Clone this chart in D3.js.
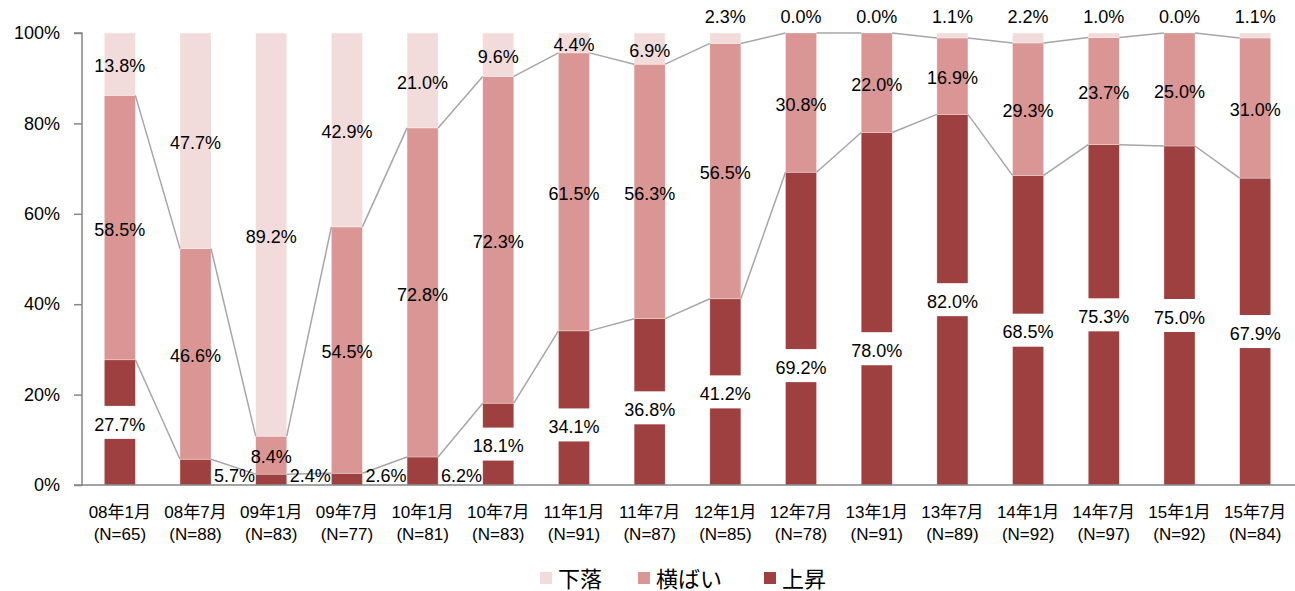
<!DOCTYPE html>
<html>
<head>
<meta charset="utf-8">
<style>
  body { margin: 0; background: #fff; }
  svg text { font-family: "Liberation Sans", "Noto Sans CJK JP", sans-serif; fill: #000; }
</style>
</head>
<body>
<svg width="1295" height="591"></svg>
<script src="https://cdn.jsdelivr.net/npm/d3@7"></script>
<script>
const periods = ['08年1月', '08年7月', '09年1月', '09年7月', '10年1月', '10年7月', '11年1月', '11年7月',
                 '12年1月', '12年7月', '13年1月', '13年7月', '14年1月', '14年7月', '15年1月', '15年7月'];
const sampleN = [65, 88, 83, 77, 81, 83, 91, 87, 85, 78, 91, 89, 92, 97, 92, 84];
const rise = [27.7, 5.7, 2.4, 2.6, 6.2, 18.1, 34.1, 36.8, 41.2, 69.2, 78.0, 82.0, 68.5, 75.3, 75.0, 67.9];
const flat = [58.5, 46.6, 8.4, 54.5, 72.8, 72.3, 61.5, 56.3, 56.5, 30.8, 22.0, 16.9, 29.3, 23.7, 25.0, 31.0];
const fall = [13.8, 47.7, 89.2, 42.9, 21.0, 9.6, 4.4, 6.9, 2.3, 0.0, 0.0, 1.1, 2.2, 1.0, 0.0, 1.1];
const yTicks = [0, 20, 40, 60, 80, 100];

// 手で動かしたラベル(上昇)のずれ, px
const riseLabelNudge = [0, 0, 0, 0, 0, 0, 17, 6, 0, 37, 40, 0, 0, 0, 0, 0];

const colors = { rise: '#9e403f', flat: '#d99694', fall: '#f2dcdb' };

const svg = d3.select('svg');
const plotL = 82, plotR = 1293, plotT = 33, plotB = 485;

const x = d3.scaleBand().domain(periods).range([plotL, plotR]).paddingInner(0.59).paddingOuter(0.295);
const y = d3.scaleLinear().domain([0, 100]).range([plotB, plotT]);
const bw = x.bandwidth();

const rows = periods.map((p, i) => ({ p, i, rise: rise[i], flat: flat[i], fall: fall[i] }));
const stack = d3.stack().keys(['rise', 'flat', 'fall'])(rows);

// bars
svg.append('g').selectAll('g')
  .data(stack)
  .join('g')
    .attr('fill', d => colors[d.key])
  .selectAll('rect')
  .data(d => d)
  .join('rect')
    .attr('x', d => x(d.data.p))
    .attr('y', d => y(d[1]))
    .attr('width', bw)
    .attr('height', d => y(d[0]) - y(d[1]))
    .attr('stroke', '#fff')
    .attr('stroke-width', 0.6)
    .attr('stroke-opacity', 0.5);

// series lines
const cumRise = rows.map(d => d.rise);
const cumFlat = rows.map(d => d.rise + d.flat);
const lines = svg.append('g').attr('stroke', '#a6a6a6').attr('stroke-width', 1.5).attr('fill', 'none');
[cumRise, cumFlat].forEach(cum => {
  d3.pairs(d3.range(periods.length)).forEach(([a, b]) => {
    lines.append('line')
      .attr('x1', x(periods[a]) + bw).attr('y1', y(cum[a]))
      .attr('x2', x(periods[b])).attr('y2', y(cum[b]));
  });
});

// axes
const yAxis = svg.append('g')
  .attr('transform', `translate(${plotL},0)`)
  .call(d3.axisLeft(y).tickValues(yTicks).tickSize(8).tickPadding(14).tickFormat(d => d + '%'));
yAxis.selectAll('path, line').attr('stroke', '#868686').attr('stroke-width', 1.5);
yAxis.select('.domain').attr('d', `M-8,${plotT}H0V${plotB}H-8`);
yAxis.selectAll('text').attr('font-size', 18).attr('font-family', '"Liberation Sans", sans-serif').attr('fill', '#000');

svg.append('line')
  .attr('x1', plotL).attr('x2', plotR + 2)
  .attr('y1', plotB).attr('y2', plotB)
  .attr('stroke', '#868686').attr('stroke-width', 1.5);

const xl = svg.append('g').selectAll('text')
  .data(rows)
  .join('text')
    .attr('text-anchor', 'middle')
    .attr('font-size', 17);
xl.append('tspan')
  .attr('x', d => x(d.p) + bw / 2).attr('y', 518)
  .text(d => d.p);
xl.append('tspan')
  .attr('x', d => x(d.p) + bw / 2).attr('y', 540)
  .text(d => `(N=${sampleN[d.i]})`);

// labels
const fmt = v => v.toFixed(1) + '%';
const lab = svg.append('g').attr('font-size', 18).attr('text-anchor', 'middle');

rows.forEach(d => {
  const cx = x(d.p) + bw / 2;
  // 上昇
  if (d.rise < 7) {
    lab.append('text').attr('x', cx + 39).attr('y', 476).attr('dy', '0.35em').text(fmt(d.rise));
  } else {
    const cy = y(d.rise / 2) + riseLabelNudge[d.i];
    const t = lab.append('text').attr('x', cx).attr('y', cy + 2).attr('dy', '0.35em').text(fmt(d.rise));
    const w = t.node().getComputedTextLength();
    lab.insert('rect', () => t.node())
      .attr('x', cx - w / 2 - 3).attr('y', cy - 16.5)
      .attr('width', w + 6).attr('height', 33)
      .attr('fill', '#fff');
  }
  // 横ばい
  lab.append('text').attr('x', cx).attr('y', y(d.rise + d.flat / 2) + 2).attr('dy', '0.35em').text(fmt(d.flat));
  // 下落
  const fy = d.fall < 3 ? plotT - 16 : y(100 - d.fall / 2) + 2;
  lab.append('text').attr('x', cx).attr('y', fy).attr('dy', '0.35em').text(fmt(d.fall));
});

// legend
const legendItems = [
  { name: '下落', color: colors.fall, x: 540 },
  { name: '横ばい', color: colors.flat, x: 638 },
  { name: '上昇', color: colors.rise, x: 764 }
];
const lg = svg.append('g').selectAll('g').data(legendItems).join('g')
  .attr('transform', d => `translate(${d.x},0)`);
lg.append('rect').attr('x', 0).attr('y', 572).attr('width', 12).attr('height', 12).attr('fill', d => d.color);
lg.append('text').attr('x', 18).attr('y', 579).attr('dy', '0.35em').attr('font-size', 22).text(d => d.name);
</script>
</body>
</html>
